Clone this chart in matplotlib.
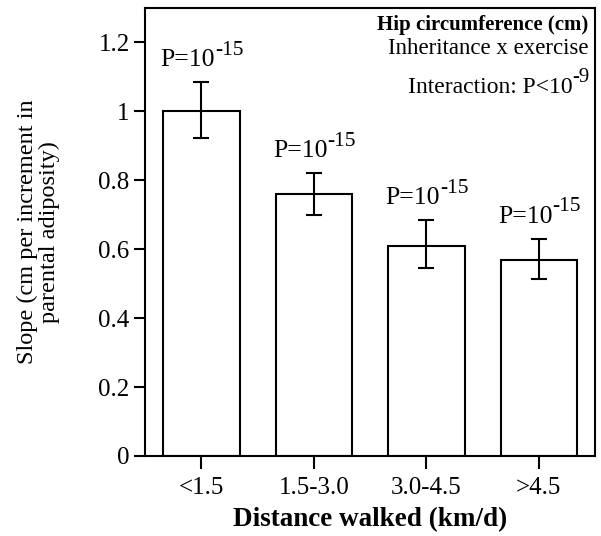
import matplotlib
matplotlib.use("Agg")
import matplotlib.pyplot as plt
from matplotlib.font_manager import FontProperties
from matplotlib.textpath import TextPath

# walking distance groups and slopes
groups = ["<1.5", "1.5-3.0", "3.0-4.5", ">4.5"]
slope = [1.0, 0.76, 0.61, 0.57]
err_low = [0.922, 0.70, 0.545, 0.513]
err_high = [1.085, 0.82, 0.684, 0.63]
p_base = "P=10"
p_exp = ["-15", "-15", "-15", "-15"]

FONT = "Liberation Serif"
plt.rcParams["font.family"] = [FONT, "DejaVu Serif"]


def width_pt(s, size, weight="normal"):
    prop = FontProperties(family=FONT, weight=weight)
    return TextPath((0, 0), s, size=size, prop=prop).get_extents().width


def sup_text(ax, xy, base, sup, size, sup_size, dy, coords="data", ha="center"):
    """base text with a raised exponent, placed by offset from xy"""
    wb = width_pt(base, size) + 1.0
    ws = width_pt(sup, sup_size)
    x0 = -(wb + ws) / 2 if ha == "center" else -(wb + ws)
    ax.annotate(base, xy, xycoords=coords, xytext=(x0, dy), textcoords="offset points",
                ha="left", va="baseline", fontsize=size)
    ax.annotate(sup, xy, xycoords=coords, xytext=(x0 + wb, dy + 0.45 * size),
                textcoords="offset points", ha="left", va="baseline", fontsize=sup_size)


fig = plt.figure(figsize=(6.01, 5.36), dpi=100)
ax = fig.add_axes([145 / 601, 80 / 536, 450 / 601, 448 / 536])

x = list(range(len(groups)))
ax.bar(x, slope, width=0.68, color="white", edgecolor="black", linewidth=1.5, zorder=2)

yerr = [[s - lo for s, lo in zip(slope, err_low)],
        [hi - s for s, hi in zip(slope, err_high)]]
ax.errorbar(x, slope, yerr=yerr, fmt="none", ecolor="black", elinewidth=1.5,
            capsize=5.8, capthick=1.5, zorder=3)

# P value above each bar
for xi, hi, e in zip(x, err_high, p_exp):
    sup_text(ax, (xi, hi), p_base, e, 18.5, 15.5, 11.5)

ax.set_xlim(-0.5, 3.5)
ax.set_ylim(0, 1.3)
ax.set_yticks([0, 0.2, 0.4, 0.6, 0.8, 1.0, 1.2])
ax.set_yticklabels(["0", "0.2", "0.4", "0.6", "0.8", "1", "1.2"])
ax.set_xticks(x)
ax.set_xticklabels(groups)

for sp in ax.spines.values():
    sp.set_linewidth(1.5)
ax.tick_params(axis="y", direction="out", length=8, width=1.5, labelsize=18, pad=3)
ax.tick_params(axis="x", direction="out", length=9, width=1.5, labelsize=18, pad=6)

ax.set_xlabel("Distance walked (km/d)", fontsize=19.5, fontweight="bold", labelpad=6)
ax.set_ylabel("Slope (cm per increment in\nparental adiposity)", fontsize=17.5,
              linespacing=1.0, labelpad=28)

# annotation block in the top right corner
ax.text(0.985, 0.95, "Hip circumference (cm)", transform=ax.transAxes,
        ha="right", va="baseline", fontsize=15, fontweight="bold")
ax.text(0.985, 0.897, "Inheritance x exercise", transform=ax.transAxes,
        ha="right", va="baseline", fontsize=16.5)
sup_text(ax, (0.985, 0.81), "Interaction: P<10", "-9", 17, 15, 0,
         coords="axes fraction", ha="right")

fig.savefig("out.png", dpi=100)
